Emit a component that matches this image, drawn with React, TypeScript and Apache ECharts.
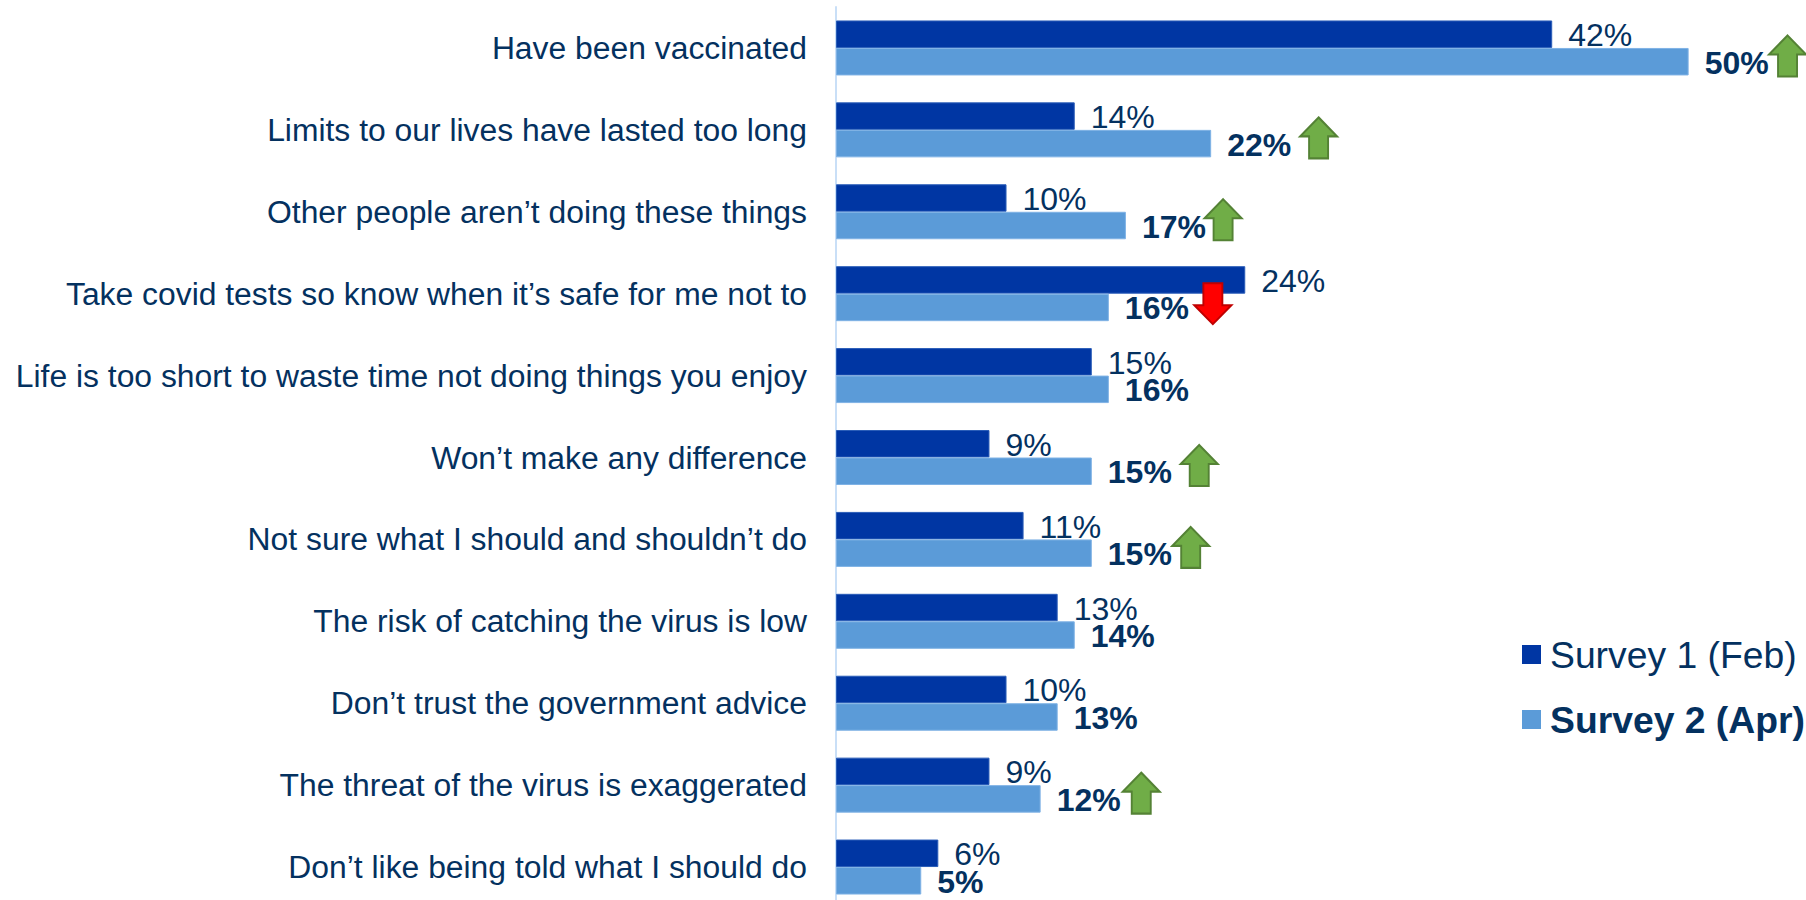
import React, { useEffect, useRef } from "react";
import * as echarts from "echarts";

const categories = [
  "Have been vaccinated",
  "Limits to our lives have lasted too long",
  "Other people aren’t doing these things",
  "Take covid tests so know when it’s safe for me not to",
  "Life is too short to waste time not doing things you enjoy",
  "Won’t make any difference",
  "Not sure what I should and shouldn’t do",
  "The risk of catching the virus is low",
  "Don’t trust the government advice",
  "The threat of the virus is exaggerated",
  "Don’t like being told what I should do",
];
const survey1 = [42, 14, 10, 24, 15, 9, 11, 13, 10, 9, 6];
const survey2 = [50, 22, 17, 16, 16, 15, 15, 14, 13, 12, 5];

// Change markers: where along the percentage scale each arrow sits, and its row.
const risers = [
  [55.8, 0],
  [28.3, 1],
  [22.7, 2],
  [21.3, 5],
  [20.8, 6],
  [17.9, 9],
];
const fallers = [[22.1, 3]];

const ARROW_UP = "path://M18.5 0 L37 19 L28 19 L28 41 L9 41 L9 19 L0 19 Z";
const ARROW_DOWN = "path://M9 0 L28 0 L28 22 L37 22 L18.5 41 L0 22 L9 22 Z";

const FONT = "Liberation Sans";
const INK = "#04315F";
const DARK = "#0036A3";
const LIGHT = "#5B9BD8";

export default function App() {
  const ref = useRef<HTMLDivElement>(null);
  useEffect(() => {
    document.body.style.margin = "0";
    const chart = echarts.init(ref.current!, undefined, { renderer: "svg" });
    chart.setOption({
      animation: false,
      backgroundColor: "#ffffff",
      textStyle: { fontFamily: FONT },
      grid: { left: 836, top: 7, width: 972, height: 901, outerBoundsMode: "none" },
      legend: {
        orient: "vertical",
        left: 1522,
        top: 636,
        padding: 0,
        itemWidth: 19,
        itemHeight: 19,
        itemGap: 28,
        selectedMode: false,
        itemStyle: { borderWidth: 0 },
        textStyle: {
          fontFamily: FONT,
          fontSize: 37.3,
          color: INK,
          padding: [0, 0, 4, 4],
        },
        data: [
          { name: "Survey 1 (Feb)", icon: "rect" },
          { name: "Survey 2 (Apr)", icon: "rect", textStyle: { fontWeight: "bold" } },
        ],
      },
      xAxis: { type: "value", min: 0, max: 57, show: false },
      yAxis: {
        type: "category",
        inverse: true,
        data: categories,
        axisLine: { show: true, lineStyle: { color: "#C9DFF7", width: 2 } },
        axisTick: { show: false },
        axisLabel: {
          margin: 29,
          fontFamily: FONT,
          fontSize: 31.85,
          color: INK,
        },
      },
      series: [
        {
          name: "Survey 1 (Feb)",
          type: "bar",
          data: survey1,
          barWidth: 27.5,
          barGap: 0,
          itemStyle: { color: DARK, borderColor: "#2A5DB8", borderWidth: 1 },
          label: {
            show: true,
            position: "right",
            distance: 16,
            offset: [0, 1],
            lineHeight: 26,
            formatter: "{c}%",
            fontFamily: FONT,
            fontSize: 32,
            color: INK,
          },
        },
        {
          name: "Survey 2 (Apr)",
          type: "bar",
          data: survey2,
          barWidth: 27.5,
          barGap: 0,
          itemStyle: { color: LIGHT, borderColor: "#7FB2E5", borderWidth: 1 },
          label: {
            show: true,
            position: "right",
            distance: 16,
            offset: [0, 1],
            lineHeight: 26,
            formatter: "{c}%",
            fontFamily: FONT,
            fontSize: 32,
            fontWeight: "bold",
            color: INK,
          },
        },
        {
          name: "Increase",
          type: "scatter",
          data: risers,
          symbol: ARROW_UP,
          symbolSize: [37, 41],
          symbolOffset: [0, 8],
          clip: false,
          z: 5,
          itemStyle: { color: "#70AD47", borderColor: "#548235", borderWidth: 2, opacity: 1 },
        },
        {
          name: "Decrease",
          type: "scatter",
          data: fallers,
          symbol: ARROW_DOWN,
          symbolSize: [37, 41],
          symbolOffset: [0, 10],
          clip: false,
          z: 5,
          itemStyle: { color: "#FF0000", borderColor: "#C00000", borderWidth: 2, opacity: 1 },
        },
      ],
    });
    return () => chart.dispose();
  }, []);
  return <div ref={ref} style={{ position: "absolute", left: 0, top: 0, width: 1806, height: 900 }} />;
}
